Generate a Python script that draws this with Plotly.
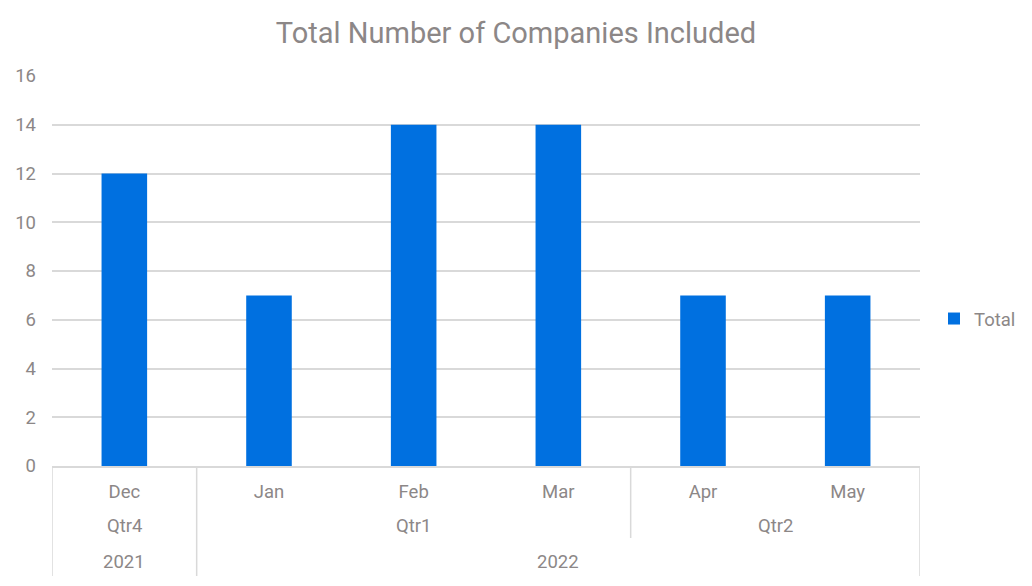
import plotly.graph_objects as go

months = ["Dec", "Jan", "Feb", "Mar", "Apr", "May"]
quarters = ["Qtr4", "Qtr1", "Qtr2"]
quarter_centers = [0, 2, 4.5]
years = ["2021", "2022"]
year_centers = [0, 3]
totals = [12, 7, 14, 14, 7, 7]

text_color = "#8c8787"
grid_color = "#d9d9d9"
font_family = "Roboto"
fs = 18.5

W, H = 1032, 586
OFF = 8  # page body margin
# desired plot area on screen: x 52..920, y 76..466
PL, PR, PT, PB = 52, 920, 76, 466
L, T = PL - OFF, PT - OFF
R = W - (PR - OFF)
B = H - (PB - OFF)
plot_h = PB - PT

def py(pix):
    return (PB - pix) / plot_h

fig = go.Figure()
fig.add_trace(go.Bar(x=months, y=totals, name="Total", marker_color="#0070e0",
                     marker_line_width=0))

annotations = []
for q, c in zip(quarters, quarter_centers):
    annotations.append(dict(x=c, y=py(526), xref="x", yref="paper", text=q, showarrow=False,
                            font=dict(size=fs, color=text_color, family=font_family),
                            xanchor="center", yanchor="middle"))
for yr, c in zip(years, year_centers):
    annotations.append(dict(x=c, y=py(562), xref="x", yref="paper", text=yr, showarrow=False,
                            font=dict(size=fs, color=text_color, family=font_family),
                            xanchor="center", yanchor="middle"))

shapes = []
for xv, bottom in [(-0.5, 576), (0.5, 576), (3.5, 538), (5.5, 576)]:
    shapes.append(dict(type="line", xref="x", yref="paper", x0=xv, x1=xv, y0=0, y1=py(bottom),
                       line=dict(color=grid_color, width=1.5)))

fig.update_layout(
    width=W, height=H,
    margin=dict(l=L, r=R, t=T, b=B, autoexpand=False),
    paper_bgcolor="white", plot_bgcolor="white",
    title=dict(text="Total Number of Companies Included", xref="container",
               x=(516 - OFF) / W, xanchor="center",
               yref="container", y=1 - (33 - OFF) / H, yanchor="middle",
               font=dict(size=29, color=text_color, family=font_family)),
    font=dict(family=font_family, color=text_color, size=fs),
    bargap=0.685,
    showlegend=True,
    legend=dict(x=(934 - PL) / (PR - PL), xanchor="left", y=py(319), yanchor="middle",
                font=dict(size=fs, color=text_color, family=font_family),
                itemwidth=30),
    xaxis=dict(type="category", showgrid=False, showline=True, linecolor=grid_color, linewidth=1.5,
               ticks="", tickfont=dict(size=fs, color=text_color), ticklabelstandoff=8,
               range=[-0.5, 5.5], automargin=False),
    yaxis=dict(range=[0, 16], dtick=2, showgrid=True, gridcolor=grid_color, gridwidth=1.5,
               zeroline=False, showline=False, tickfont=dict(size=fs, color=text_color),
               ticks="", ticklabelstandoff=15, automargin=False),
    annotations=annotations,
    shapes=shapes,
)

fig.write_html("out.html")
